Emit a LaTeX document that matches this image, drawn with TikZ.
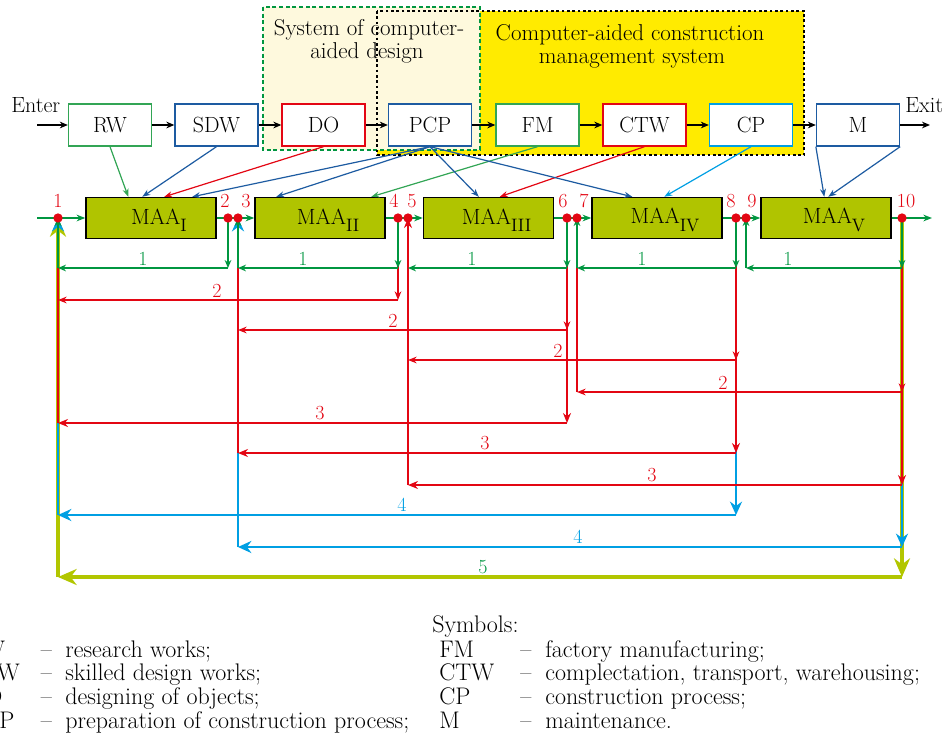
\documentclass[tikz,border=0pt]{standalone}
\usepackage{fontspec}
\usetikzlibrary{arrows.meta,calc}
\definecolor{cgreen}{RGB}{0,150,64}
\definecolor{cboxgreen}{RGB}{50,165,85}
\definecolor{cblue}{RGB}{29,91,161}
\definecolor{cred}{RGB}{227,6,19}
\definecolor{ccyan}{RGB}{0,159,227}
\definecolor{cyg}{RGB}{178,198,0}
\definecolor{cmaa}{RGB}{176,196,0}
\definecolor{cyellow}{RGB}{255,235,0}
\definecolor{ccream}{RGB}{254,249,221}
\newcommand{\msub}[1]{\raisebox{-5.5pt}{\fontsize{13.5}{14}\selectfont #1}}
\newcommand{\fbloop}[5]{%
  \draw[#1,#2] (#3) -- (#3 |- 0,#5);
  \draw[#1,#2] (#3 |- 0,#5) -- (#4 |- 0,#5);}
\newcommand{\fbup}[4]{\draw[#1,#2] (#3 |- 0,#4) -- (#3);}
\tikzset{
 px/.style={x=0.75pt,y=-0.75pt},
 topbox/.style={draw=#1, fill=white, line width=1pt, minimum width=62.25pt, minimum height=31.5pt, inner sep=0pt, font=\fontsize{16.5}{19}\selectfont},
 maabox/.style={draw=black, fill=cmaa, line width=1.1pt, minimum width=97.5pt, minimum height=30.75pt, inner sep=0pt},
 maatext/.style={font=\fontsize{16.5}{18}\selectfont, inner sep=0pt},
 rdot/.style={circle, fill=cred, inner sep=0pt, minimum size=7pt},
 numlab/.style={font=\fontsize{15}{16}\selectfont, inner sep=0pt, anchor=base},
 blk/.style={black, line width=1.1pt, -{Stealth[length=6pt,width=5pt]}},
 diag/.style={line width=0.9pt, -{Stealth[length=6pt,width=4.5pt]}},
 mainln/.style={cgreen, line width=1.1pt, -{Stealth[length=6.5pt,width=5pt]}},
 lA/.style={cgreen, line width=1pt},
 lB/.style={cred, line width=1pt},
 lC/.style={cred, line width=1.8pt},
 lD/.style={ccyan, line width=2.2pt},
 lE/.style={cyg, line width=2.4pt},
 tA/.style={-{Stealth[length=6pt,width=5pt]}},
 tB/.style={-{Stealth[length=6.5pt,width=5pt]}},
 tC/.style={-{Stealth[length=7.5pt,width=6pt]}},
 tD/.style={-{Stealth[length=10pt,width=9pt]}},
 tE/.style={-{Stealth[length=14pt,width=12pt]}},
 leg/.style={font=\fontsize{18}{21}\selectfont, inner sep=0pt, anchor=base west},
 legdash/.style={font=\fontsize{18}{21}\selectfont, inner sep=0pt, anchor=base},
 ttl/.style={font=\fontsize{17.2}{19}\selectfont, inner sep=0pt, anchor=base},
}
\begin{document}
\begin{tikzpicture}[px]
\useasboundingbox (0,0) rectangle (946,740);
% background frames
\fill[cyellow] (377,11) rectangle (804,155);
\filldraw[fill=ccream, draw=cgreen, line width=1.5pt, dash pattern=on 3pt off 2pt] (263,7) rectangle (480,150);
\draw[black, line width=1.5pt, dash pattern=on 2pt off 2pt] (377,11) rectangle (804,155);
\node[ttl] (t1a) at (369,35) {System of computer-};
\node[ttl] (t1b) at (367,58) {aided design};
\node[ttl] (t2a) at (630,40) {Computer-aided construction};
\node[ttl] (t2b) at (632,63) {management system};
% top row
\node[topbox=cboxgreen] (RW) at (110,125) {RW};
\node[topbox=cblue] (SDW) at (216.5,125) {SDW};
\node[topbox=cred] (DO) at (323.5,125) {DO};
\node[topbox=cblue] (PCP) at (430,125) {PCP};
\node[topbox=cboxgreen] (FM) at (537.5,125) {FM};
\node[topbox=cred] (CTW) at (644.5,125) {CTW};
\node[topbox=ccyan] (CP) at (751,125) {CP};
\node[topbox=cblue] (M) at (858,125) {M};
\node[font=\fontsize{16.5}{19}\selectfont, inner sep=0pt, anchor=base west] (enter) at (11,112) {Enter};
\node[font=\fontsize{16.5}{19}\selectfont, inner sep=0pt, anchor=base west] (exit) at (905,112) {Exit};
\coordinate (ein) at (37,125);
\coordinate (eout) at (930,125);
\draw[blk] (ein) -- (RW);
\draw[blk] (RW) -- (SDW);
\draw[blk] (SDW) -- (DO);
\draw[blk] (DO) -- (PCP);
\draw[blk] (PCP) -- (FM);
\draw[blk] (FM) -- (CTW);
\draw[blk] (CTW) -- (CP);
\draw[blk] (CP) -- (M);
\draw[blk] (M) -- (eout);
% MAA row
\node[maabox] (A1) at (151,218) {};
\node[maabox] (A2) at (320,218) {};
\node[maabox] (A3) at (488.5,218) {};
\node[maabox] (A4) at (657,218) {};
\node[maabox] (A5) at (826,218) {};
\node[maatext] (A1t) at ($(A1)+(8,2)$) {MAA\msub{I}};
\node[maatext] (A2t) at ($(A2)+(8,2)$) {MAA\msub{II}};
\node[maatext] (A3t) at ($(A3)+(8,2)$) {MAA\msub{III}};
\node[maatext] (A4t) at ($(A4)+(8,2)$) {MAA\msub{IV}};
\node[maatext] (A5t) at ($(A5)+(8,2)$) {MAA\msub{V}};
\coordinate (d1) at (58,218);
\coordinate (d2) at (228,218);
\coordinate (d3) at (238,218);
\coordinate (d4) at (398,218);
\coordinate (d5) at (408,218);
\coordinate (d6) at (567,218);
\coordinate (d7) at (577,218);
\coordinate (d8) at (736,218);
\coordinate (d9) at (746,218);
\coordinate (d10) at (902,218);
\coordinate (min) at (37,218);
\coordinate (mout) at (932,218);
\draw[mainln] (min) -- (A1.west);
\draw[mainln] (A1.east) -- (A2.west);
\draw[mainln] (A2.east) -- (A3.west);
\draw[mainln] (A3.east) -- (A4.west);
\draw[mainln] (A4.east) -- (A5.west);
\draw[mainln] (A5.east) -- (mout);
% diagonal inputs
\draw[diag, cboxgreen] (RW.south) -- ($(A1.north west)+(43,0)$);
\draw[diag, cblue] (SDW.south) -- ($(A1.north west)+(57,0)$);
\draw[diag, cred] (DO.south) -- ($(A1.north west)+(79,0)$);
\draw[diag, cblue] (PCP.south) -- ($(A1.north west)+(107,0)$);
\draw[diag, cblue] (PCP.south) -- ($(A2.north west)+(22,0)$);
\draw[diag, cboxgreen] (FM.south) -- ($(A2.north west)+(117,0)$);
\draw[diag, cblue] (PCP.south) -- ($(A3.north west)+(56,0)$);
\draw[diag, cred] (CTW.south) -- ($(A3.north west)+(77,0)$);
\draw[diag, cblue] (PCP.south) -- ($(A4.north west)+(41,0)$);
\draw[diag, ccyan] (CP.south) -- ($(A4.north west)+(73,0)$);
\draw[diag, cblue] (M.south west) -- ($(A5.north west)+(64,0)$);
\draw[diag, cblue] (M.south east) -- ($(A5.north west)+(68,0)$);
% feedback 5
\fbloop{lE}{tE}{d10}{d1}{577}
\fbup{lE}{tE}{d1}{577}
\node[numlab, text=cgreen] (n5) at (483,573) {5};
% feedback 4
\fbloop{lD}{tD}{d8}{d1}{515}
\fbup{lD}{tD}{d1}{515}
\node[numlab, text=ccyan] (n4a) at (402,511) {4};
\fbloop{lD}{tD}{d10}{d3}{547}
\fbup{lD}{tD}{d3}{547}
\node[numlab, text=ccyan] (n4b) at (578,543) {4};
% feedback 3
\fbloop{lC}{tC}{d6}{d1}{423}
\fbup{lC}{}{d1}{423}
\node[numlab, text=cred] (n3a) at (320,419) {3};
\fbloop{lC}{tC}{d8}{d3}{453}
\fbup{lC}{}{d3}{453}
\node[numlab, text=cred] (n3b) at (485,449) {3};
\fbloop{lC}{tC}{d10}{d5}{485}
\fbup{lC}{tC}{d5}{485}
\node[numlab, text=cred] (n3c) at (652,481) {3};
% feedback 2
\fbloop{lB}{tB}{d4}{d1}{300}
\fbup{lB}{}{d1}{300}
\node[numlab, text=cred] (n2a) at (217,297) {2};
\fbloop{lB}{tB}{d6}{d3}{330}
\fbup{lB}{}{d3}{330}
\node[numlab, text=cred] (n2b) at (393,327) {2};
\fbloop{lB}{tB}{d8}{d5}{360}
\fbup{lB}{}{d5}{360}
\node[numlab, text=cred] (n2c) at (558,357) {2};
\fbloop{lB}{tB}{d10}{d7}{392}
\fbup{lB}{}{d7}{392}
\node[numlab, text=cred] (n2d) at (723,389) {2};
% feedback 1
\fbloop{lA}{tA}{d2}{d1}{268}
\fbup{lA}{tA}{d1}{268}
\node[numlab, text=cgreen] (n1a) at (143,265) {1};
\fbloop{lA}{tA}{d4}{d3}{268}
\fbup{lA}{tA}{d3}{268}
\node[numlab, text=cgreen] (n1b) at (303,265) {1};
\fbloop{lA}{tA}{d6}{d5}{268}
\node[numlab, text=cgreen] (n1c) at (472,265) {1};
\fbloop{lA}{tA}{d8}{d7}{268}
\fbup{lA}{tA}{d7}{268}
\node[numlab, text=cgreen] (n1d) at (642,265) {1};
\fbloop{lA}{tA}{d10}{d9}{268}
\fbup{lA}{tA}{d9}{268}
\node[numlab, text=cgreen] (n1e) at (788,265) {1};
% dots and their numbers
\foreach \i in {1,...,10} {\node[rdot] (p\i) at (d\i) {};}
\node[numlab, text=cred] (k1) at (58,207) {1};
\node[numlab, text=cred] (k2) at (225,207) {2};
\node[numlab, text=cred] (k3) at (246,207) {3};
\node[numlab, text=cred] (k4) at (394,207) {4};
\node[numlab, text=cred] (k5) at (412,207) {5};
\node[numlab, text=cred] (k6) at (563,207) {6};
\node[numlab, text=cred] (k7) at (584,207) {7};
\node[numlab, text=cred] (k8) at (731,207) {8};
\node[numlab, text=cred] (k9) at (752,207) {9};
\node[numlab, text=cred] (k10) at (906,207) {10};
% legend
\node[leg] (sym) at (432,632) {Symbols:};
\node[leg] (la1) at (-32,657) {RW};
\node[legdash] (lb1) at (46.5,657) {–};
\node[leg] (lc1) at (65,657) {research works;};
\node[leg] (la2) at (-32,680.5) {SDW};
\node[legdash] (lb2) at (46.5,680.5) {–};
\node[leg] (lc2) at (65,680.5) {skilled design works;};
\node[leg] (la3) at (-32,704) {DO};
\node[legdash] (lb3) at (46.5,704) {–};
\node[leg] (lc3) at (65,704) {designing of objects;};
\node[leg] (la4) at (-32,728) {PCP};
\node[legdash] (lb4) at (46.5,728) {–};
\node[leg] (lc4) at (65,728) {preparation of construction process;};
\node[leg] (ra1) at (439,657) {FM};
\node[legdash] (rb1) at (526,657) {–};
\node[leg] (rc1) at (545,657) {factory manufacturing;};
\node[leg] (ra2) at (439,680.5) {CTW};
\node[legdash] (rb2) at (526,680.5) {–};
\node[leg] (rc2) at (545,680.5) {complectation, transport, warehousing;};
\node[leg] (ra3) at (439,704) {CP};
\node[legdash] (rb3) at (526,704) {–};
\node[leg] (rc3) at (545,704) {construction process;};
\node[leg] (ra4) at (439,728) {M};
\node[legdash] (rb4) at (526,728) {–};
\node[leg] (rc4) at (545,728) {maintenance.};
\end{tikzpicture}
\end{document}
